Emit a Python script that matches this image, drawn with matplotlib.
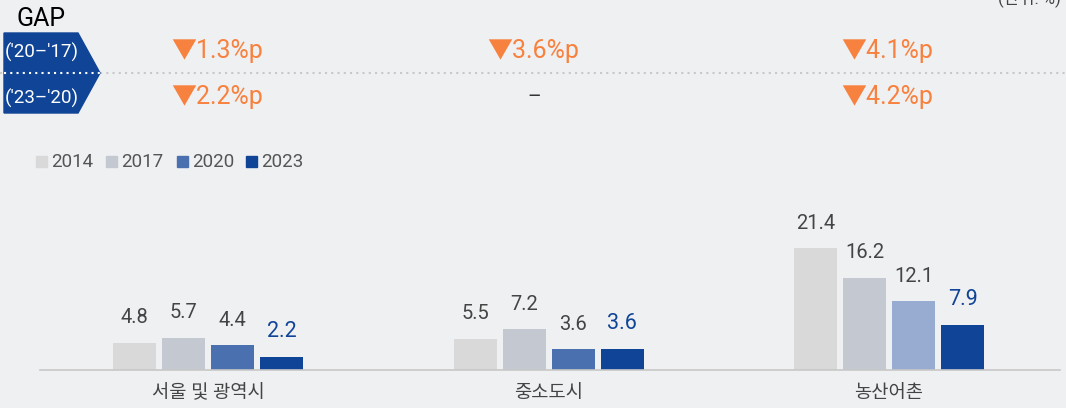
import matplotlib.pyplot as plt
from matplotlib.patches import Polygon, Rectangle

plt.rcParams['font.family'] = ['Roboto', 'Noto Sans CJK KR', 'DejaVu Sans']

regions = ["서울 및 광역시", "중소도시", "농산어촌"]
years = ["2014", "2017", "2020", "2023"]
v2014 = [4.8, 5.5, 21.4]
v2017 = [5.7, 7.2, 16.2]
v2020 = [4.4, 3.6, 12.1]
v2023 = [2.2, 3.6, 7.9]
gap_20_17 = ["▼1.3%p", "▼3.6%p", "▼4.1%p"]
gap_23_20 = ["▼2.2%p", "–", "▼4.2%p"]
gap_rows = ["('20–'17)", "('23–'20)"]

bg = "#eff0f2"
colors = ["#d9d9d9", "#c4c8d0", "#4a70b0", "#0f4496"]
light_2020 = "#98acd2"
orange = "#f7813e"
navy = "#0f4496"
grey_txt = "#444444"

fig = plt.figure(figsize=(10.66, 4.08), dpi=100, facecolor=bg)

# bar axes, placed in pixel terms
W, H = 1066, 408
left_px, right_px, base_px, top_px = 40, 1060, 370, 150
ax = fig.add_axes([left_px / W, (H - base_px) / H, (right_px - left_px) / W, (base_px - top_px) / H])
ax.set_facecolor("none")
step = 340.5
ax.set_xlim((left_px - 208) / step, (right_px - 208) / step)
ax.set_ylim(0, (base_px - top_px) / 5.7)

bw = 43 / step
off = 49 / step
series = [v2014, v2017, v2020, v2023]
for i, vals in enumerate(series):
    xs = [g + (i - 1.5) * off for g in range(len(regions))]
    cols = [colors[i]] * len(regions)
    if i == 2:
        cols[2] = light_2020
    ax.bar(xs, vals, width=bw, color=cols, zorder=2)
    for x, v in zip(xs, vals):
        last = i == 3
        ax.annotate(f"{v}", (x, v), xytext=(0, 11), textcoords="offset points",
                    ha="center", va="bottom", fontsize=15.5 if last else 14.5,
                    color=navy if last else grey_txt)

for s in ["top", "right", "left"]:
    ax.spines[s].set_visible(False)
ax.spines["bottom"].set_color("#c8c8c8")
ax.spines["bottom"].set_linewidth(1.2)
ax.set_yticks([])
ax.set_xticks(range(len(regions)))
ax.set_xticklabels(regions, fontsize=13.5, color=grey_txt)
ax.tick_params(axis="x", length=0, pad=10)

# overlay in pixel coordinates for the GAP table and legend
ov = fig.add_axes([0, 0, 1, 1])
ov.set_xlim(0, W)
ov.set_ylim(H, 0)
ov.axis("off")
ov.patch.set_alpha(0)

ov.text(17, 19, "GAP", fontsize=18, color="black", va="center", ha="left")
ov.add_patch(Polygon([(4, 33), (78, 33), (100, 73), (78, 113), (4, 113)],
                     closed=True, color=navy, zorder=1))
ov.plot([0, W], [73, 73], ls=(0, (1, 2)), color="#c8c8c8", lw=1.5, zorder=0)
ov.plot([4, 100], [73, 73], ls=(0, (1, 2)), color="white", lw=1.5, zorder=2)
ov.text(5, 52, gap_rows[0], color="white", fontsize=13.5, va="center", ha="left")
ov.text(5, 98, gap_rows[1], color="white", fontsize=13.5, va="center", ha="left")

row_x = [217, 533, 887]
for x, t in zip(row_x, gap_20_17):
    ov.text(x, 51, t, color=orange, fontsize=18, va="center", ha="center")
for x, t in zip(row_x, gap_23_20):
    if t == "–":
        ov.text(534, 97, t, color="#333333", fontsize=15, va="center", ha="center")
    else:
        ov.text(x, 97, t, color=orange, fontsize=18, va="center", ha="center")

ov.text(998, -2, "(단위: %)", fontsize=12, color=grey_txt, va="center", ha="left")

# legend
leg_x = [36, 106, 177, 246]
for x, lab, c in zip(leg_x, years, colors):
    ov.add_patch(Rectangle((x, 156), 11, 11, color=c))
    ov.text(x + 15, 162, lab, fontsize=13.5, color="#555555", va="center", ha="left")

fig.savefig("out.png", dpi=100, facecolor=bg)
